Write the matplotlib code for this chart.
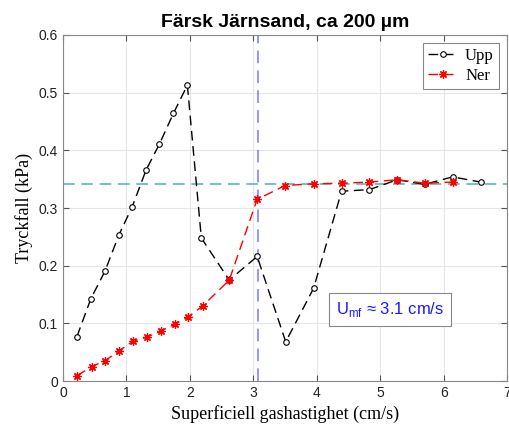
import matplotlib.pyplot as plt

# Upp (increasing flow)
upp_x = [0.22, 0.44, 0.66, 0.88, 1.09, 1.31, 1.52, 1.74, 1.96, 2.18, 2.62,
         3.06, 3.51, 3.95, 4.39, 4.83, 5.27, 5.70, 6.14, 6.58]
upp_y = [0.077, 0.143, 0.190, 0.253, 0.302, 0.366, 0.411, 0.464, 0.513, 0.248, 0.175,
         0.216, 0.068, 0.161, 0.329, 0.332, 0.349, 0.341, 0.354, 0.345]

# Ner (decreasing flow)
ner_x = [0.22, 0.45, 0.66, 0.88, 1.10, 1.32, 1.55, 1.77, 1.97, 2.20, 2.62,
         3.06, 3.50, 3.95, 4.39, 4.83, 5.27, 5.70, 6.14]
ner_y = [0.009, 0.025, 0.035, 0.052, 0.069, 0.076, 0.087, 0.099, 0.111, 0.130, 0.175,
         0.315, 0.339, 0.342, 0.343, 0.345, 0.349, 0.343, 0.345]

u_mf = 3.08
dp_mf = 0.341

fig = plt.figure(figsize=(5.1, 4.32), dpi=100)
ax = fig.add_axes([0.1235, 0.118, 0.871, 0.801])

ax.axhline(dp_mf, color="#5cb8b8", linestyle=(0, (7, 4)), linewidth=1.2, zorder=1)
ax.axvline(u_mf, color="#8c8cff", linestyle=(0, (7, 4)), linewidth=1.3, zorder=1)

ax.plot(upp_x, upp_y, color="black", linestyle=(0, (7, 4)), linewidth=1.0,
        marker="o", markersize=4, markerfacecolor="white", markeredgecolor="black",
        markeredgewidth=0.8, label="Upp", zorder=3)
ax.plot(ner_x, ner_y, color="red", linestyle=(0, (7, 4)), linewidth=1.0,
        marker=(8, 2, 0), markersize=6, markerfacecolor="red", markeredgecolor="red",
        markeredgewidth=0.9, label="Ner", zorder=4)

ax.set_xlim(0, 7)
ax.set_ylim(0, 0.6)
ax.set_xticks(range(0, 8))
ax.set_yticks([0, 0.1, 0.2, 0.3, 0.4, 0.5, 0.6])
ax.set_yticklabels(["0", "0.1", "0.2", "0.3", "0.4", "0.5", "0.6"])
ax.grid(True, color="#e6e6e6", linewidth=0.8)
ax.set_axisbelow(True)
ax.tick_params(direction="in", top=True, right=True, labelsize=10, length=4,
               color="#555555", labelcolor="#222222")
for lab in ax.get_xticklabels() + ax.get_yticklabels():
    lab.set_family("Liberation Sans")
for sp in ax.spines.values():
    sp.set_color("#888888")
    sp.set_linewidth(0.8)

ax.set_xlabel("Superficiell gashastighet (cm/s)", family="Liberation Serif", fontsize=13)
ax.set_ylabel("Tryckfall (kPa)", family="Liberation Serif", fontsize=13)
ax.set_title("Färsk Järnsand, ca 200 µm", family="Liberation Sans", fontweight="bold",
             fontsize=14, pad=6)

leg = ax.legend(loc="upper right", prop={"family": "Liberation Serif", "size": 12},
                handlelength=1.8, handletextpad=0.4, borderpad=0.3, labelspacing=0.2,
                fancybox=False, framealpha=1, edgecolor="#888888")
leg.get_frame().set_linewidth(0.8)

ax.text(4.3, 0.124, r"U$_{\mathregular{mf}}$ ≈ 3.1 cm/s", color="#1a1aff",
        family="Liberation Sans", fontsize=12, va="center", ha="left",
        bbox=dict(boxstyle="square,pad=0.4", facecolor="white", edgecolor="#888888",
                  linewidth=0.8))

fig.savefig("out.png", dpi=100)
